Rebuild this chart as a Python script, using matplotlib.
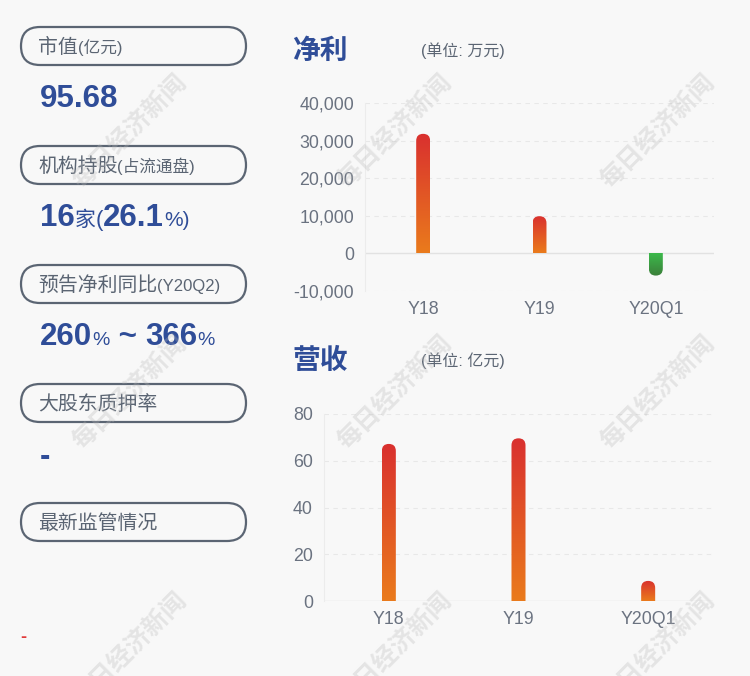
import numpy as np
import matplotlib
matplotlib.use('Agg')
import matplotlib.pyplot as plt
from matplotlib.patches import FancyBboxPatch
from matplotlib.colors import LinearSegmentedColormap

plt.rcParams['font.family'] = ['Liberation Sans', 'Noto Sans CJK SC', 'DejaVu Sans']

# ---- data ----
periods = ['Y18', 'Y19', 'Y20Q1']
net_profit = [31800, 9900, -5900]      # 万元
revenue = [67.2, 69.6, 8.6]            # 亿元
profit_ticks = [-10000, 0, 10000, 20000, 30000, 40000]
revenue_ticks = [0, 20, 40, 60, 80]

info_titles = ['市值', '机构持股', '预告净利同比', '大股东质押率', '最新监管情况']
info_notes = ['(亿元)', '(占流通盘)', '(Y20Q2)', '', '']
market_cap = '95.68'
inst_count = '16'
inst_share = '26.1'
forecast_low = '260'
forecast_high = '366'
pledge_ratio = '-'

W, H = 750, 676
BG = '#f8f8f8'
BLUE = '#2f4d98'
GREY = '#5b6573'
TICK = '#6a7280'

red_cmap = LinearSegmentedColormap.from_list('rd', ['#ea7b1c', '#d9302f'])
green_cmap = LinearSegmentedColormap.from_list('gn', ['#3b7f3a', '#3cb94b'])

fig = plt.figure(figsize=(7.5, 6.76), dpi=100, facecolor=BG)
base = fig.add_axes([0, 0, 1, 1])
base.set_xlim(0, W)
base.set_ylim(H, 0)
base.axis('off')
renderer = fig.canvas.get_renderer()


def px_axes(x0, y0, x1, y1):
    return fig.add_axes([x0 / W, 1 - y1 / H, (x1 - x0) / W, (y1 - y0) / H])


def put_pieces(x, y, parts):
    # parts: (text, size, weight, color), laid left to right on one baseline
    for s, size, weight, color in parts:
        t = base.text(x, y, s, fontsize=size, fontweight=weight, color=color,
                      ha='left', va='baseline')
        x += t.get_window_extent(renderer).width


def bar_chart(ax, values, ticks, width, labels):
    ax.set_facecolor('none')
    ax.set_xlim(-0.5, len(values) - 0.5)
    ax.set_ylim(ticks[0], ticks[-1])
    ax.set_autoscale_on(False)
    bars = ax.bar(range(len(values)), values, width=width, color='none', zorder=3)
    p0 = ax.transData.transform((0, 0))
    p1 = ax.transData.transform((1, 1))
    sx, sy = p1[0] - p0[0], p1[1] - p0[1]
    grad = np.linspace(0, 1, 256).reshape(-1, 1)
    for b, v in zip(bars, values):
        x0, w = b.get_x(), b.get_width()
        r = w / 2
        ry = r * sx / sy
        lo, hi = min(0, v), max(0, v)
        im = ax.imshow(grad, extent=(x0, x0 + w, lo, hi), origin='lower',
                       cmap=red_cmap if v >= 0 else green_cmap,
                       aspect='auto', interpolation='bicubic', zorder=3)
        if v >= 0:
            clo, chi = lo - ry, hi
        else:
            clo, chi = lo, hi + ry
        clip = FancyBboxPatch((x0, clo), w, chi - clo,
                              boxstyle=f'round,pad=0,rounding_size={r}',
                              mutation_aspect=sx / sy, transform=ax.transData)
        im.set_clip_path(clip)
    ax.set_xlim(-0.5, len(values) - 0.5)
    ax.set_ylim(ticks[0], ticks[-1])
    for t in ticks:
        if t == 0:
            ax.axhline(0, color='#e2e2e2', lw=1.0, zorder=1)
        else:
            ax.axhline(t, color='#e8e8e8', lw=0.8, ls=(0, (4, 4)), zorder=1)
    for s in ['top', 'right', 'bottom']:
        ax.spines[s].set_visible(False)
    ax.spines['left'].set_color('#ececec')
    ax.set_yticks(ticks)
    ax.set_yticklabels([f'{t:,}' for t in ticks])
    ax.set_xticks(range(len(values)))
    ax.set_xticklabels(labels)
    ax.tick_params(length=0, labelsize=12.8, labelcolor=TICK)
    ax.tick_params(axis='y', pad=8)
    ax.tick_params(axis='x', pad=7)


# ---- right: charts ----
ax1 = px_axes(365, 103, 714, 291)
bar_chart(ax1, net_profit, profit_ticks, 0.12, periods)
ax2 = px_axes(324, 414, 713, 601)
bar_chart(ax2, revenue, revenue_ticks, 0.108, periods)

for y, title, unit in [(51, '净利', '(单位: 万元)'), (361, '营收', '(单位: 亿元)')]:
    base.text(292, y, title, fontsize=20, fontweight='bold', color=BLUE,
              family='Noto Sans CJK SC', ha='left', va='center')
    base.text(421, y, unit, fontsize=11.5, color=GREY, ha='left', va='center')

# ---- left: info boxes ----
box_tops = [27, 146, 265, 384, 503]
for top, title, note in zip(box_tops, info_titles, info_notes):
    base.add_patch(FancyBboxPatch((21, top), 225, 38,
                                  boxstyle='round,pad=0,rounding_size=19',
                                  fc='none', ec=GREY, lw=1.6))
    parts = [(title, 14.3, 'normal', GREY)]
    if note:
        parts.append((note, 12, 'normal', GREY))
    put_pieces(38, top + 26, parts)

put_pieces(40, 107, [(market_cap, 22.5, 'bold', BLUE)])
put_pieces(40, 226, [(inst_count, 22.5, 'bold', BLUE), ('家', 15, 'normal', BLUE),
                     ('(', 16, 'normal', BLUE), (inst_share, 22.5, 'bold', BLUE),
                     ('%)', 15, 'normal', BLUE)])
put_pieces(40, 345, [(forecast_low, 22.5, 'bold', BLUE), ('%', 14, 'normal', BLUE),
                     (' ~ ', 22.5, 'bold', BLUE), (forecast_high, 22.5, 'bold', BLUE),
                     ('%', 14, 'normal', BLUE)])
put_pieces(40, 465, [(pledge_ratio, 22.5, 'bold', BLUE)])
base.text(20, 637, '-', fontsize=13, fontweight='bold', color='#e03a3a',
          ha='left', va='center')

# ---- watermarks ----
for wy in [132, 393, 650]:
    for wx in [130, 395, 658]:
        fig.text(wx / W, 1 - wy / H, '每日经济新闻', fontsize=18, fontweight='bold',
                 family='Noto Sans CJK SC', color='#b8b8b8', alpha=0.3,
                 rotation=45, ha='center', va='center', zorder=10)

fig.savefig('out.png', dpi=100, facecolor=BG)
